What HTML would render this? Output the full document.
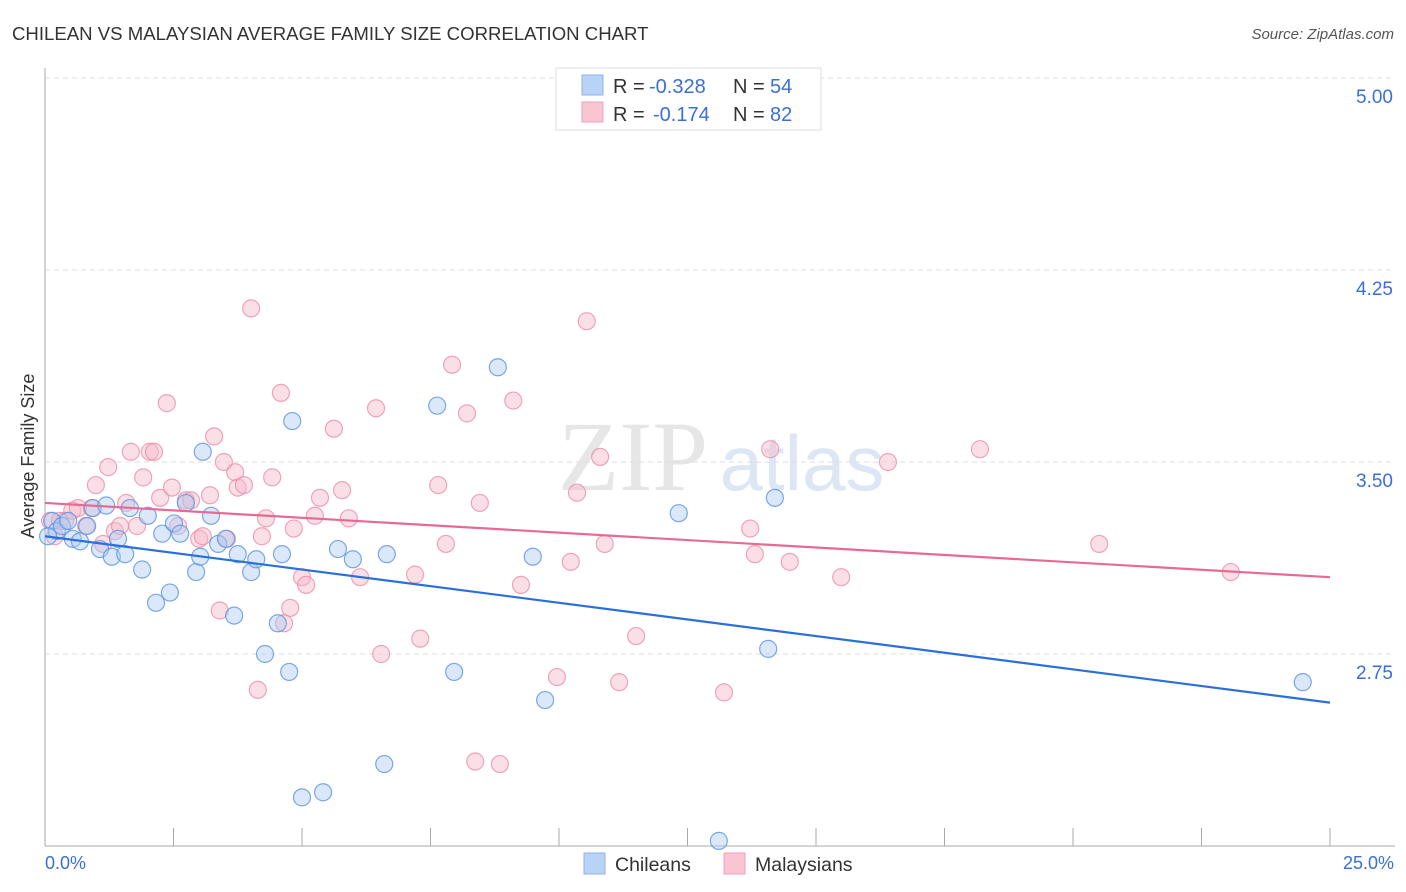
<!DOCTYPE html>
<html><head><meta charset="utf-8"><style>
body{margin:0;background:#fff;font-family:"Liberation Sans",sans-serif;}
svg{display:block}
</style></head><body>
<svg id="chart" width="1406" height="892">
<text x="12" y="40" font-size="18.6" fill="#333">CHILEAN VS MALAYSIAN AVERAGE FAMILY SIZE CORRELATION CHART</text>
<text x="1394" y="39" font-size="15" fill="#555" font-style="italic" text-anchor="end">Source: ZipAtlas.com</text>
<text x="633" y="490" font-size="100" fill="#e6e6e6" font-family="Liberation Serif" text-anchor="middle">ZIP</text>
<text x="802" y="490" font-size="78" fill="#dde6f4" text-anchor="middle">atlas</text>
<g id="grid"></g><g id="axes"></g><g id="pts"></g><g id="trend"></g>
<text transform="translate(34,456) rotate(-90)" font-size="18" fill="#333" text-anchor="middle">Average Family Size</text>
<text x="45" y="869" font-size="18" fill="#3a6fd8">0.0%</text>
<text x="1394" y="869" font-size="18" fill="#3a6fd8" text-anchor="end">25.0%</text>
<g>
<rect x="556" y="68" width="265" height="62" fill="#fff" stroke="#ddd"/>
<rect x="582" y="75" width="21" height="20" fill="#b9d3f7" stroke="#8db2ea"/>
<rect x="582" y="102" width="21" height="20" fill="#f9c5d3" stroke="#eea1b7"/>
<text x="613" y="93" font-size="20" fill="#333">R = <tspan fill="#3a6fd8" x="649">-0.328</tspan><tspan x="733">N = </tspan><tspan fill="#3a6fd8" x="770">54</tspan></text>
<text x="613" y="121" font-size="20" fill="#333">R = <tspan fill="#3a6fd8" x="653">-0.174</tspan><tspan x="733">N = </tspan><tspan fill="#3a6fd8" x="770">82</tspan></text>
</g>
<g>
<rect x="584" y="853" width="21" height="21" fill="#b9d3f7" stroke="#8db2ea"/>
<text x="615" y="871" font-size="19.5" fill="#333">Chileans</text>
<rect x="724" y="853" width="21" height="21" fill="#f9c5d3" stroke="#eea1b7"/>
<text x="755" y="871" font-size="19.5" fill="#333">Malaysians</text>
</g>
</svg>
<script>
const yTicks=[5.00,4.25,3.50,2.75];
const blueX=[0.14,0.23,0.33,0.45,0.54,0.68,0.82,0.93,1.07,1.19,1.30,1.42,1.56,1.65,1.89,2.00,2.16,2.28,2.43,2.51,2.63,2.74,2.94,3.02,3.07,3.23,3.37,3.52,3.68,3.75,4.01,4.11,4.28,4.53,4.61,4.75,4.81,5.00,5.41,5.70,5.99,6.60,6.65,7.63,7.96,8.81,9.49,9.73,12.33,13.11,14.07,14.20,24.47,0.06];
const blueY=[3.27,3.23,3.25,3.27,3.20,3.19,3.25,3.32,3.16,3.33,3.13,3.20,3.14,3.32,3.08,3.29,2.95,3.22,2.99,3.26,3.22,3.34,3.07,3.13,3.54,3.29,3.18,3.20,2.90,3.14,3.07,3.12,2.75,2.87,3.14,2.68,3.66,2.19,2.21,3.16,3.12,2.32,3.14,3.72,2.68,3.87,3.13,2.57,3.30,2.02,2.77,3.36,2.64,3.21];
const pinkX=[0.10,0.19,0.29,0.39,0.53,0.64,0.80,0.91,0.99,1.13,1.23,1.36,1.46,1.58,1.67,1.79,1.91,2.04,2.12,2.24,2.37,2.47,2.59,2.74,2.84,3.00,3.07,3.21,3.29,3.40,3.48,3.54,3.70,3.75,3.87,4.01,4.14,4.22,4.30,4.42,4.59,4.65,4.77,4.84,5.00,5.08,5.25,5.35,5.62,5.78,5.91,6.13,6.44,6.54,7.20,7.30,7.65,7.80,7.92,8.21,8.37,8.46,8.85,9.11,9.26,9.96,10.23,10.35,10.54,10.80,10.89,11.17,11.50,13.21,13.72,13.81,14.11,14.49,15.49,16.40,18.19,20.51,23.07];
const pinkY=[3.27,3.21,3.27,3.27,3.31,3.32,3.25,3.32,3.41,3.18,3.48,3.23,3.25,3.34,3.54,3.25,3.44,3.54,3.54,3.36,3.73,3.40,3.25,3.35,3.35,3.20,3.21,3.37,3.60,2.92,3.50,3.20,3.46,3.40,3.41,4.10,2.61,3.21,3.28,3.44,3.77,2.87,2.93,3.24,3.05,3.02,3.29,3.36,3.63,3.39,3.28,3.05,3.71,2.75,3.06,2.81,3.41,3.18,3.88,3.69,2.33,3.34,2.32,3.74,3.02,2.66,3.11,3.38,4.05,3.52,3.18,2.64,2.82,2.60,3.24,3.14,3.55,3.11,3.05,3.50,3.55,3.18,3.07];
const blueTrend=[3.21,2.56];
const pinkTrend=[3.34,3.05];
const NS='http://www.w3.org/2000/svg';
const sx=v=>45+v*(1285/25);
const sy=v=>846-(v-2)*256;
function mk(tag,attrs,parent){const e=document.createElementNS(NS,tag);for(const k in attrs)e.setAttribute(k,attrs[k]);document.getElementById(parent).appendChild(e);return e;}
yTicks.forEach(t=>{
  const l=mk('line',{x1:45,x2:1395,y1:sy(t),y2:sy(t),stroke:'#ddd','stroke-dasharray':'5,4'},'grid');
  
  
  const tx=mk('text',{x:1393,y:sy(t)+25,'font-size':19,fill:'#3a6fd8','text-anchor':'end'},'grid');
  tx.textContent=t.toFixed(2);
  
  
});
const ax=mk('line',{x1:45,x2:45,y1:68,y2:846,stroke:'#aaa'},'axes');


const bx=mk('line',{x1:45,x2:1395,y1:846,y2:846,stroke:'#aaa'},'axes');


for(let i=1;i<=10;i++){
  const t=mk('line',{x1:sx(i*2.5),x2:sx(i*2.5),y1:828,y2:846,stroke:'#aaa'},'axes');
  
  
}
function pts(xs,ys,fill,stroke,name){
  xs.forEach((x,i)=>{
    const c=mk('circle',{cx:sx(x),cy:sy(ys[i]),r:8.5,fill:fill,'fill-opacity':0.45,stroke:stroke,'stroke-width':1.2,'stroke-opacity':0.8},'pts');
    
    
  });
}
pts(pinkX,pinkY,'#f7b8ca','#eb8fab','malaysian-point');
pts(blueX,blueY,'#aecbf2','#5b93e0','chilean-point');
const bl=mk('line',{x1:sx(0),y1:sy(blueTrend[0]),x2:sx(25),y2:sy(blueTrend[1]),stroke:'#2b6fd9','stroke-width':2.2},'trend');


const pl=mk('line',{x1:sx(0),y1:sy(pinkTrend[0]),x2:sx(25),y2:sy(pinkTrend[1]),stroke:'#e86a93','stroke-width':2.2},'trend');


</script>
</body></html>
